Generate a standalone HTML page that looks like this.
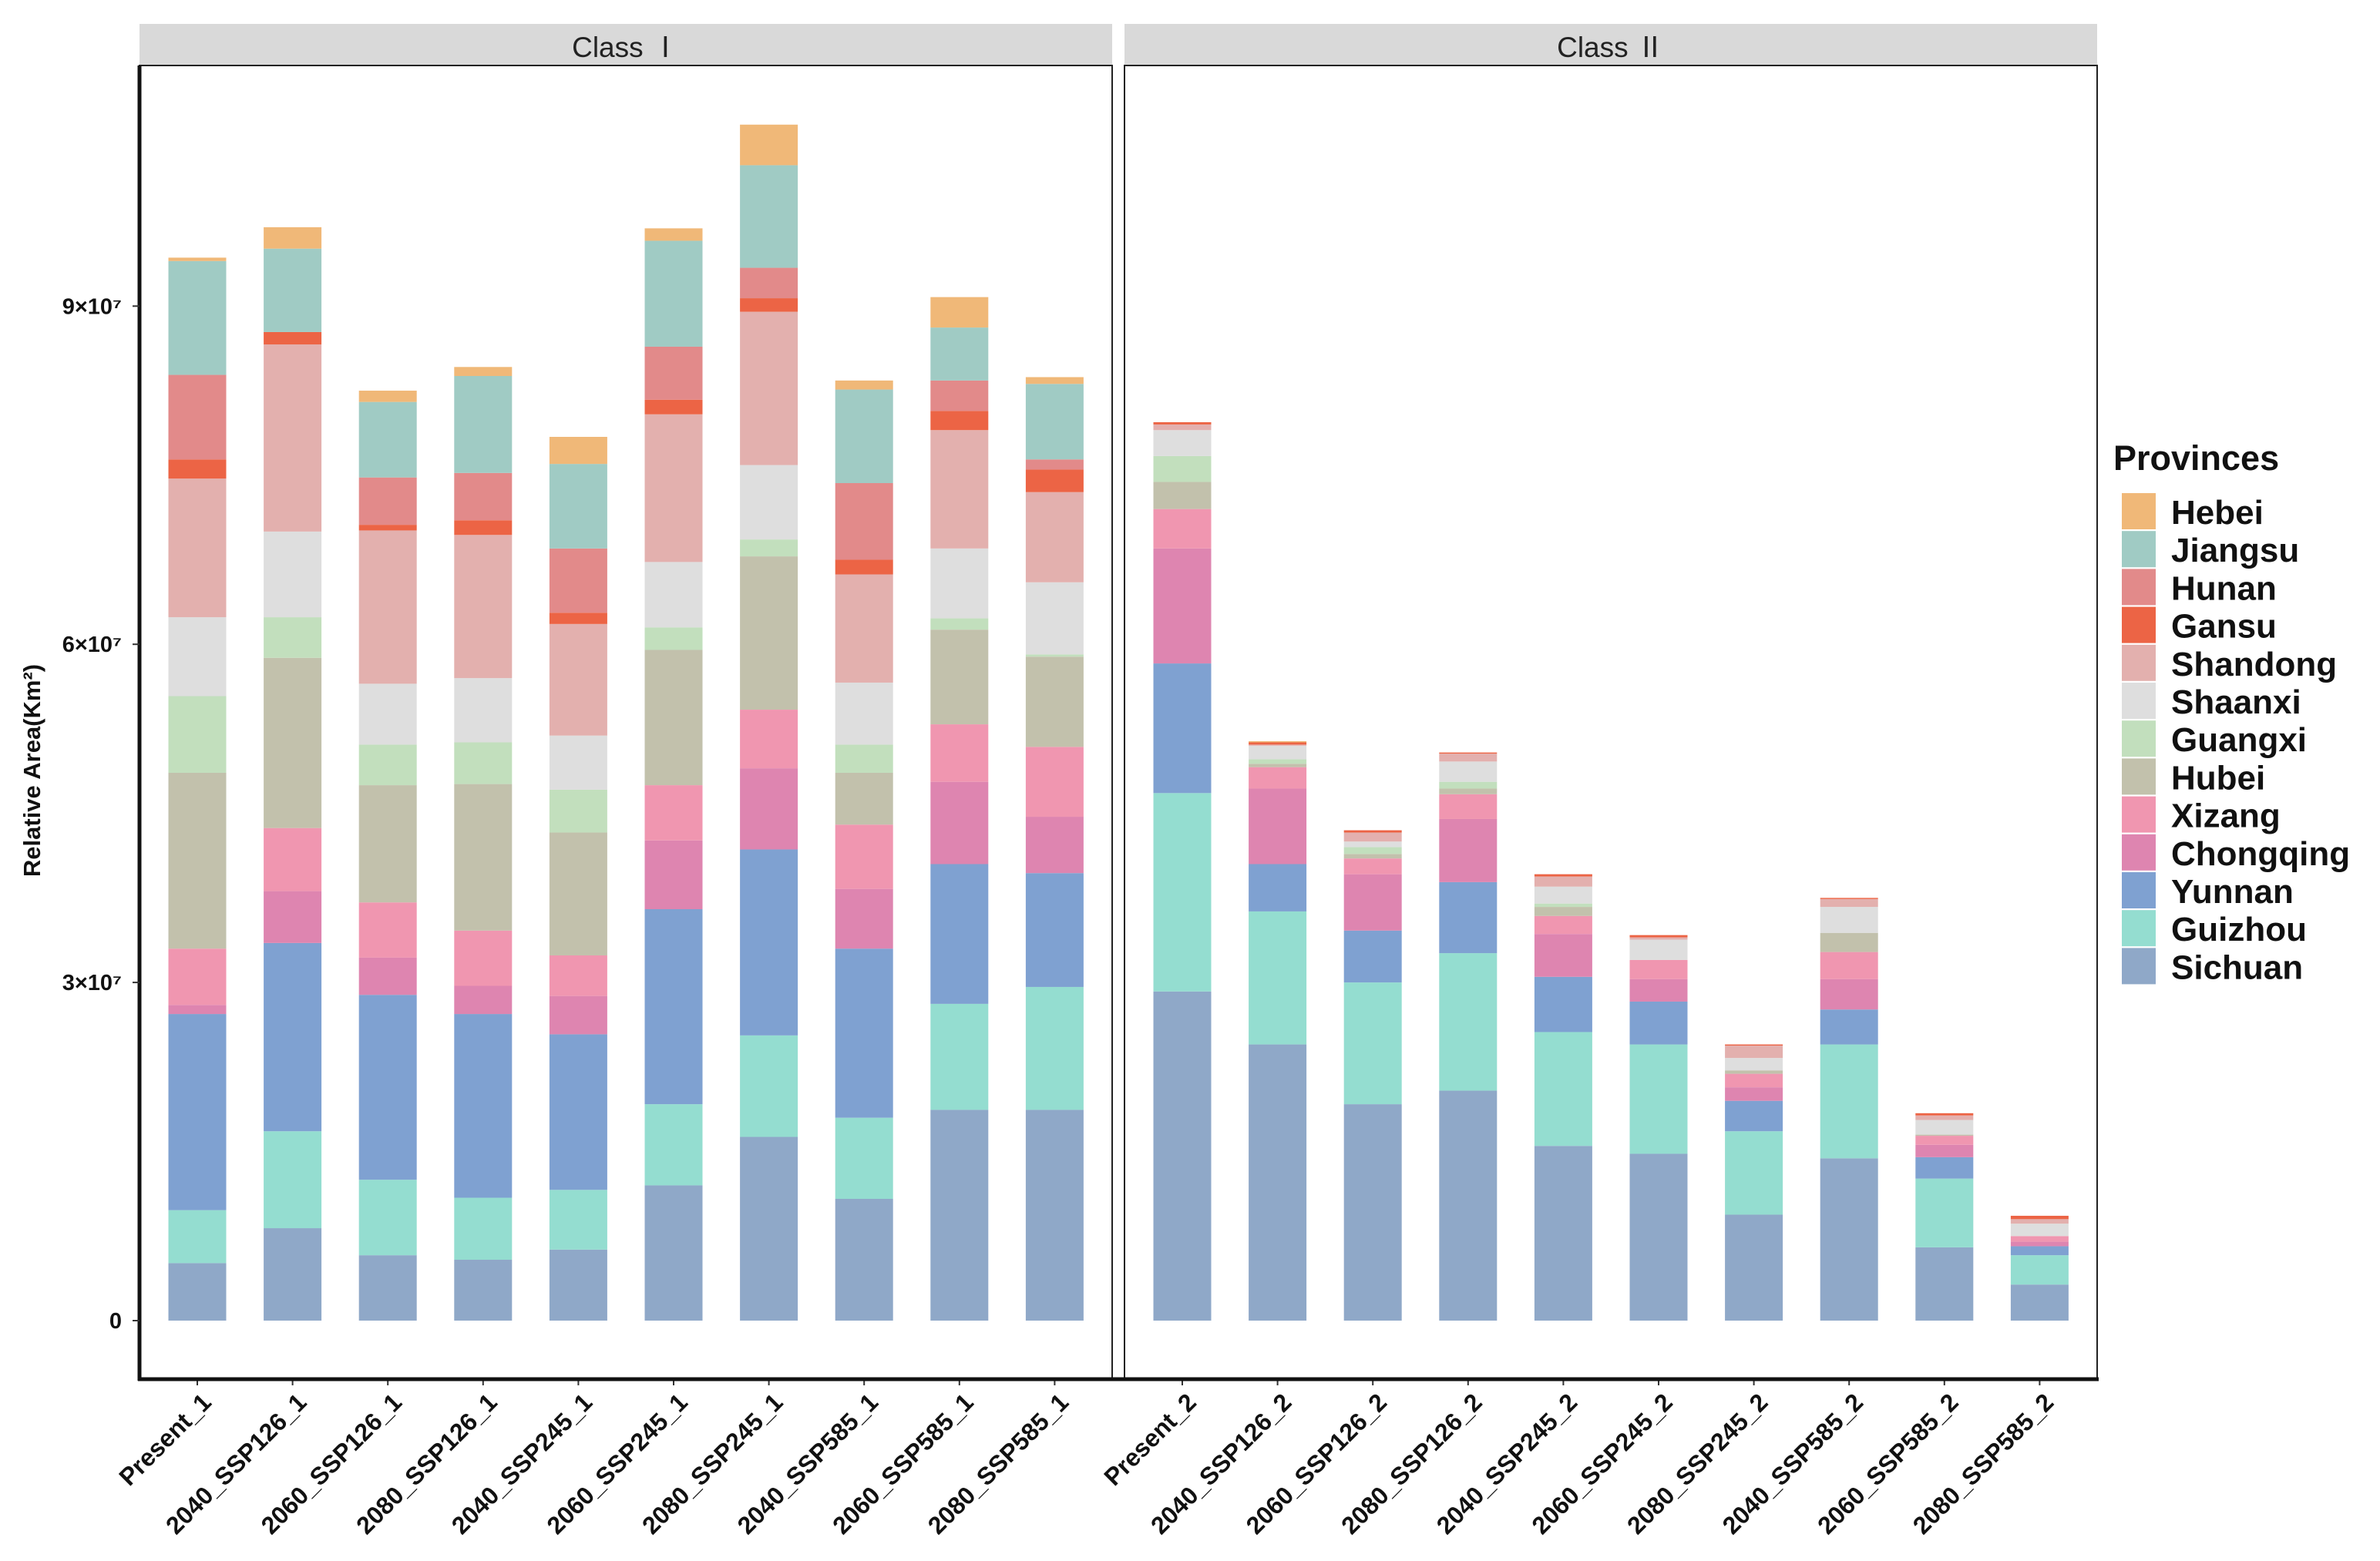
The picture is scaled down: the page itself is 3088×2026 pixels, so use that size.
<!DOCTYPE html>
<html><head><meta charset="utf-8"><style>
html,body{margin:0;padding:0;background:#fff;}
svg{display:block;}
text{font-family:"Liberation Sans","Noto Sans CJK SC",sans-serif;}
</style></head><body>
<svg id="chart" width="3088" height="2026" viewBox="0 0 3088 2026" xmlns="http://www.w3.org/2000/svg"></svg>
<script>
const provinces = ["Sichuan","Guizhou","Yunnan","Chongqing","Xizang","Hubei","Guangxi","Shaanxi","Shandong","Gansu","Hunan","Jiangsu","Hebei"];
const colors = ["#8fa8c8","#94ddd0","#7fa1d1","#de85b0","#f096b0","#c2c1ac","#c2dfbd","#dedede","#e3b0ae","#ec6445","#e28a8a","#a0cbc4","#f0b878"];
const categories1 = ["Present_1","2040_SSP126_1","2060_SSP126_1","2080_SSP126_1","2040_SSP245_1","2060_SSP245_1","2080_SSP245_1","2040_SSP585_1","2060_SSP585_1","2080_SSP585_1"];
const categories2 = ["Present_2","2040_SSP126_2","2060_SSP126_2","2080_SSP126_2","2040_SSP245_2","2060_SSP245_2","2080_SSP245_2","2040_SSP585_2","2060_SSP585_2","2080_SSP585_2"];
// values in millions km2, per province, Class I
const sichuan1   = [5.1, 8.2, 5.8, 5.4, 6.3, 12.0, 16.3, 10.8, 18.7, 18.7];
const guizhou1   = [4.7, 8.6, 6.7, 5.5, 5.3, 7.2, 9.0, 7.2, 9.4, 10.9];
const yunnan1    = [17.4, 16.7, 16.4, 16.3, 13.8, 17.3, 16.5, 15.0, 12.4, 10.1];
const chongqing1 = [0.8, 4.6, 3.3, 2.5, 3.4, 6.1, 7.2, 5.3, 7.3, 5.0];
const xizang1    = [5.0, 5.6, 4.9, 4.9, 3.6, 4.9, 5.2, 5.7, 5.1, 6.2];
const hubei1     = [15.6, 15.1, 10.4, 13.0, 10.9, 12.0, 13.6, 4.6, 8.4, 8.0];
const guangxi1   = [6.8, 3.6, 3.6, 3.7, 3.8, 2.0, 1.5, 2.5, 1.0, 0.2];
const shaanxi1   = [7.0, 7.6, 5.4, 5.7, 4.8, 5.8, 6.6, 5.5, 6.2, 6.4];
const shandong1  = [12.3, 16.6, 13.6, 12.7, 9.9, 13.1, 13.6, 9.6, 10.5, 8.0];
const gansu1     = [1.7, 1.1, 0.5, 1.3, 1.0, 1.3, 1.2, 1.3, 1.7, 2.0];
const hunan1     = [7.5, 0, 4.2, 4.2, 5.7, 4.7, 2.7, 6.8, 2.7, 0.9];
const jiangsu1   = [10.1, 7.4, 6.7, 8.6, 7.5, 9.4, 9.1, 8.3, 4.7, 6.7];
const hebei1     = [0.3, 1.9, 1.0, 0.8, 2.4, 1.1, 3.6, 0.8, 2.7, 0.6];
// Class II
const sichuan2   = [29.2, 24.5, 19.2, 20.4, 15.5, 14.8, 9.4, 14.4, 6.5, 3.2];
const guizhou2   = [17.6, 11.8, 10.8, 12.2, 10.1, 9.7, 7.4, 10.1, 6.1, 2.6];
const yunnan2    = [11.5, 4.2, 4.6, 6.3, 4.9, 3.8, 2.7, 3.1, 1.9, 0.8];
const chongqing2 = [10.2, 6.7, 5.0, 5.6, 3.8, 2.0, 1.2, 2.7, 1.1, 0.4];
const xizang2    = [3.5, 1.9, 1.4, 2.2, 1.6, 1.7, 1.2, 2.4, 0.8, 0.5];
const hubei2     = [2.4, 0.3, 0.4, 0.5, 0.8, 0, 0.3, 1.7, 0.1, 0];
const guangxi2   = [2.3, 0.4, 0.6, 0.6, 0.3, 0, 0, 0, 0, 0];
const shaanxi2   = [2.3, 1.2, 0.5, 1.8, 1.5, 1.8, 1.1, 2.3, 1.3, 1.1];
const shandong2  = [0.5, 0.1, 0.8, 0.7, 0.9, 0.2, 1.1, 0.7, 0.4, 0.4];
const gansu2     = [0.2, 0.2, 0.2, 0.1, 0.2, 0.2, 0.1, 0.1, 0.2, 0.3];
const hunan2     = [0, 0, 0, 0, 0, 0, 0, 0, 0, 0];
const jiangsu2   = [0, 0, 0, 0, 0, 0, 0, 0, 0, 0];
const hebei2     = [0, 0.1, 0, 0, 0, 0, 0, 0, 0, 0];
const yTickValues = [0, 30, 60, 90];
const yTickLabels = ["0", "3×10⁷", "6×10⁷", "9×10⁷"];
const panelTitles = ["Class Ⅰ", "Class Ⅱ"];

const series1 = [sichuan1,guizhou1,yunnan1,chongqing1,xizang1,hubei1,guangxi1,shaanxi1,shandong1,gansu1,hunan1,jiangsu1,hebei1];
const series2 = [sichuan2,guizhou2,yunnan2,chongqing2,xizang2,hubei2,guangxi2,shaanxi2,shandong2,gansu2,hunan2,jiangsu2,hebei2];

const NS = "http://www.w3.org/2000/svg";
const svg = document.getElementById("chart");
function mk(tag, attrs, parent){ const e=document.createElementNS(NS,tag); for(const k in attrs) e.setAttribute(k,attrs[k]); (parent||svg).appendChild(e); return e; }

const y0 = 1714, pxPerM = 14.63;
function yScale(v){ return y0 - v*pxPerM; }
const panels = [{x0:181,x1:1443,cats:categories1,ser:series1},{x0:1459,x1:2721,cats:categories2,ser:series2}];
const stripTop = 31, panelTop = 85, panelBot = 1790;
const bandW = 123.6, barW = 75;
function xScale(p, i){ return p.x0 + 75 + i*bandW; }

panels.forEach((p, pi) => {
  const strip = mk("rect",{x:p.x0,y:stripTop,width:p.x1-p.x0,height:panelTop-stripTop,fill:"#d9d9d9"});
  
  
  const st = mk("text",{x:(p.x0+p.x1)/2,y:stripTop+43,"text-anchor":"middle","font-size":37,fill:"#222"});
  st.textContent = panelTitles[pi];
  
  
  const g = mk("g",{});
  
  
  p.cats.forEach((c, i) => {
    let cum = 0;
    const cx = xScale(p, i);
    p.ser.forEach((s, si) => {
      const v = s[i];
      if (v > 0) {
        const r = mk("rect",{x:cx-barW/2,y:yScale(cum+v),width:barW,height:v*pxPerM,fill:colors[si]}, g);
        
        
      }
      cum += v;
    });
    mk("line",{x1:cx,x2:cx,y1:panelBot,y2:panelBot+8,stroke:"#333","stroke-width":2});
    const t = mk("text",{x:cx+20,y:panelBot+32,"text-anchor":"end","font-size":32,"font-weight":"bold",fill:"#111",transform:`rotate(-45 ${cx+20} ${panelBot+32})`});
    t.textContent = c;
    
    
  });
  const border = mk("rect",{x:p.x0,y:panelTop,width:p.x1-p.x0,height:panelBot-panelTop,fill:"none",stroke:"#222","stroke-width":2});
  
  
});
mk("line",{x1:181,x2:181,y1:panelTop,y2:panelBot+2,stroke:"#111","stroke-width":5});
mk("line",{x1:179,x2:2723,y1:panelBot,y2:panelBot,stroke:"#111","stroke-width":5});

yTickValues.forEach((v, i) => {
  const y = yScale(v);
  mk("line",{x1:172,x2:181,y1:y,y2:y,stroke:"#333","stroke-width":2});
  const t = mk("text",{x:158,y:y+10,"text-anchor":"end","font-size":29,"font-weight":"bold",fill:"#111"});
  t.textContent = yTickLabels[i];
  
  
});
const yt = mk("text",{x:52,y:1000,"text-anchor":"middle","font-size":31,"font-weight":"bold",fill:"#111",transform:"rotate(-90 52 1000)"});
yt.textContent = "Relative Area(Km²)";



const lg = mk("g",{});


const lt = mk("text",{x:2742,y:610,"font-size":45,"font-weight":"bold",fill:"#111"}, lg);
lt.textContent = "Provinces";


const order = provinces.slice().reverse();
order.forEach((name, k) => {
  const si = provinces.indexOf(name);
  const y = 640 + k*49.2;
  const r = mk("rect",{x:2753,y:y,width:44,height:47,fill:colors[si]}, lg);
  
  
  const t = mk("text",{x:2817,y:y+40,"font-size":44,"font-weight":"bold",fill:"#111"}, lg);
  t.textContent = name;
  
  
});
</script>
</body></html>
